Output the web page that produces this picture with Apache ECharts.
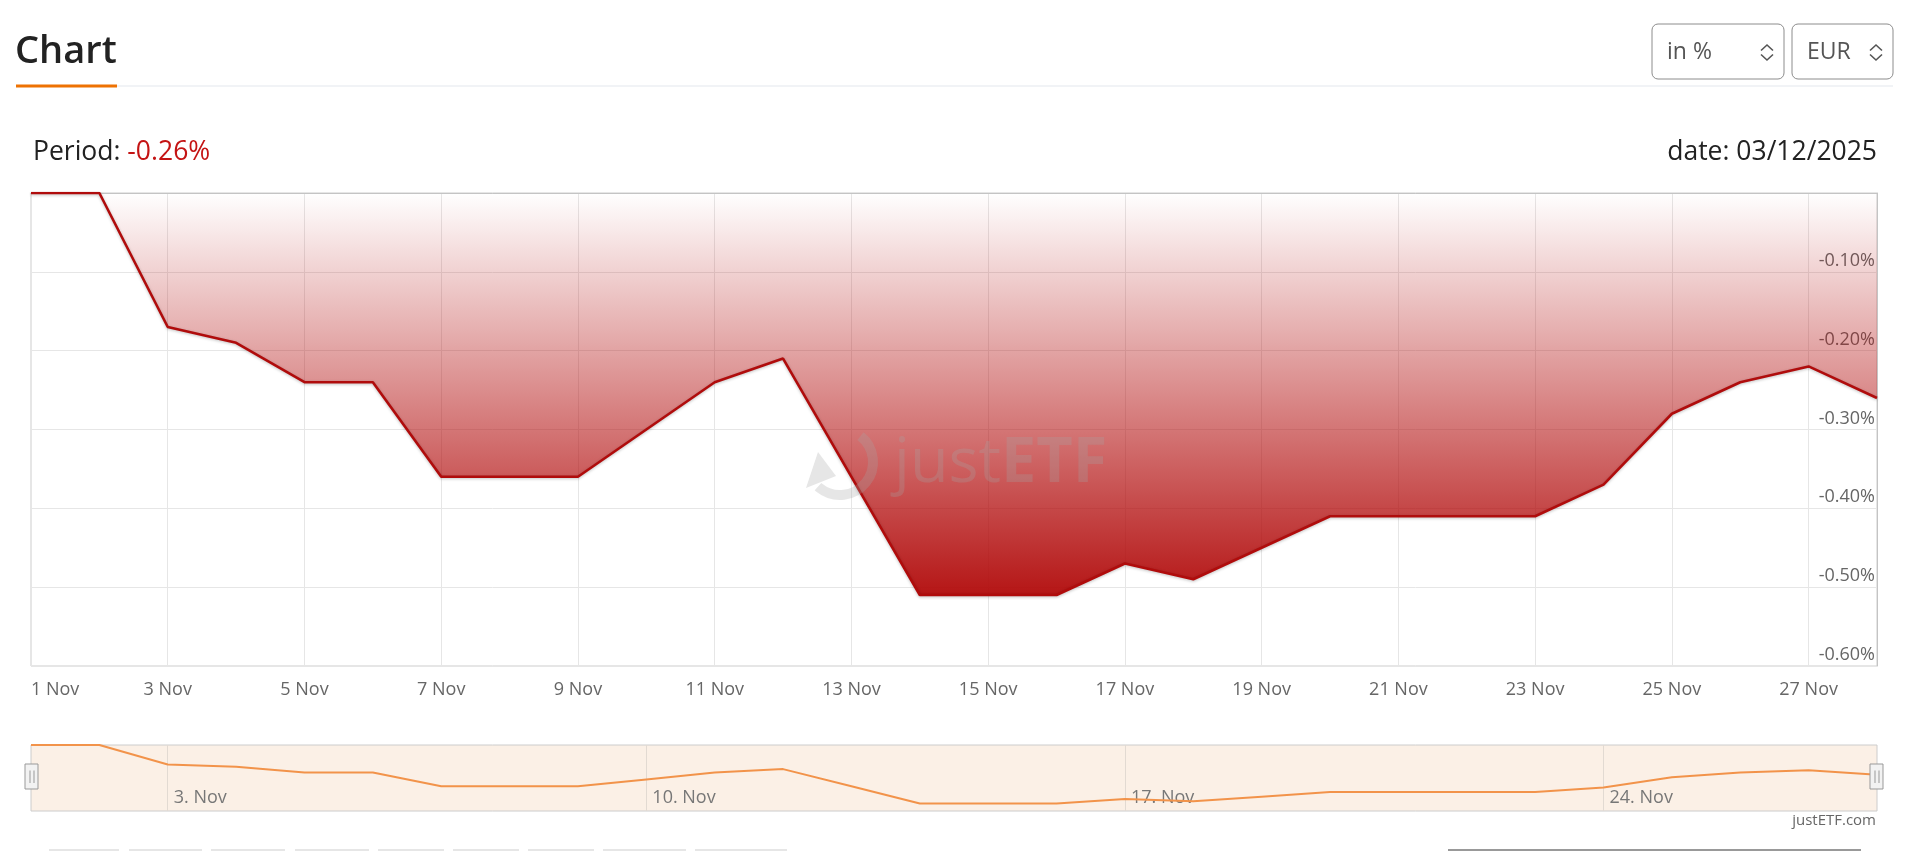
<!DOCTYPE html>
<html>
<head>
<meta charset="utf-8">
<script src="https://cdn.jsdelivr.net/npm/echarts@6/dist/echarts.min.js"></script>
<style>
html,body{margin:0;padding:0;background:#fff;}
#c{width:1920px;height:851px;}
</style>
</head>
<body>
<div id="c"></div>
<script>
// ---- data ----
const categories = ['1 Nov','2 Nov','3 Nov','4 Nov','5 Nov','6 Nov','7 Nov','8 Nov','9 Nov','10 Nov',
  '11 Nov','12 Nov','13 Nov','14 Nov','15 Nov','16 Nov','17 Nov','18 Nov','19 Nov','20 Nov',
  '21 Nov','22 Nov','23 Nov','24 Nov','25 Nov','26 Nov','27 Nov','28 Nov'];
const values = [0, 0, -0.17, -0.19, -0.24, -0.24, -0.36, -0.36, -0.36, -0.30,
  -0.24, -0.21, -0.36, -0.51, -0.51, -0.51, -0.47, -0.49, -0.45, -0.41,
  -0.41, -0.41, -0.41, -0.37, -0.28, -0.24, -0.22, -0.26];
const navigatorTickDays = ['3 Nov','10 Nov','17 Nov','24 Nov'];
const periodLabel = 'Period: ';
const periodValue = '-0.26%';
const dateLabel = 'date: 03/12/2025';
const unitOption = 'in %';
const currencyOption = 'EUR';

const FONT = "'Open Sans', 'DejaVu Sans', sans-serif";
const chart = echarts.init(document.getElementById('c'), null, {renderer: 'canvas'});
const WM = 'rgba(165,165,165,0.28)';

function chevron(cx) {
  return [
    {type: 'polyline', shape: {points: [[cx - 6, 50.5], [cx, 45], [cx + 6, 50.5]]},
      style: {stroke: '#555', lineWidth: 1.6, fill: null}},
    {type: 'polyline', shape: {points: [[cx - 6, 54.5], [cx, 60], [cx + 6, 54.5]]},
      style: {stroke: '#555', lineWidth: 1.6, fill: null}}
  ];
}
function handle(x) {
  return [
    {type: 'rect', shape: {x: x, y: 764, width: 13, height: 25}, style: {fill: '#f2f2f2', stroke: '#999', lineWidth: 1}, z: 20},
    {type: 'line', shape: {x1: x + 5, y1: 770.5, x2: x + 5, y2: 783}, style: {stroke: '#999', lineWidth: 1}, z: 21},
    {type: 'line', shape: {x1: x + 9, y1: 770.5, x2: x + 9, y2: 783}, style: {stroke: '#999', lineWidth: 1}, z: 21}
  ];
}

const bottomBits = [[49,119],[129,202],[211,285],[295,369],[378,444],[453,519],[528,594],[603,686],[695,787]]
  .map(([a, b]) => ({type: 'rect', shape: {x: a, y: 849, width: b - a, height: 2}, style: {fill: '#e6e6e6'}}));

const option = {
  animation: false,
  backgroundColor: '#ffffff',
  grid: [
    {left: 31, right: 43, top: 193, bottom: 185, show: true, borderColor: '#cccccc', borderWidth: 1},
    {left: 31, right: 43, top: 745, bottom: 40, show: true, backgroundColor: '#fbf0e6', borderColor: '#cccccc', borderWidth: 1}
  ],
  xAxis: [
    {
      type: 'category', gridIndex: 0, data: categories, boundaryGap: false,
      axisLine: {show: true, lineStyle: {color: '#c4c4c4'}},
      axisTick: {show: false},
      axisLabel: {interval: 1, alignMinLabel: 'left', color: '#666', fontFamily: FONT, fontSize: 18, margin: 15},
      splitLine: {show: true, interval: 1, lineStyle: {color: '#e6e6e6', width: 1}}
    },
    {
      type: 'category', gridIndex: 1, data: categories, boundaryGap: false,
      axisLine: {show: false}, axisTick: {show: false},
      axisLabel: {
        inside: true,
        interval: (i, v) => navigatorTickDays.includes(v),
        formatter: v => v.replace(' ', '. '),
        align: 'left', verticalAlign: 'bottom', padding: [0, 0, 0, 6], margin: 4,
        color: '#777', fontSize: 18, fontFamily: FONT
      },
      splitLine: {show: true, interval: (i, v) => navigatorTickDays.includes(v), lineStyle: {color: '#e2dad2'}}
    }
  ],
  yAxis: [
    {
      type: 'value', gridIndex: 0, position: 'right', min: -0.6, max: 0, interval: 0.1,
      axisLine: {show: true, lineStyle: {color: '#c4c4c4'}},
      axisTick: {show: false},
      axisLabel: {
        inside: true, margin: 2, verticalAlign: 'bottom', padding: [0, 0, 2, 0],
        color: '#666', fontFamily: FONT, fontSize: 18,
        formatter: v => (Math.abs(v) < 1e-9 ? '' : v.toFixed(2) + '%')
      },
      splitLine: {show: true, lineStyle: {color: '#e6e6e6'}}
    },
    {type: 'value', gridIndex: 1, min: -0.575, max: 0, show: false}
  ],
  series: [
    {
      type: 'line', xAxisIndex: 0, yAxisIndex: 0, data: values, symbol: 'none', z: 3,
      lineStyle: {color: '#b00c0c', width: 2.6, shadowColor: 'rgba(0,0,0,0.25)', shadowBlur: 3, shadowOffsetY: 1},
      areaStyle: {
        opacity: 1,
        color: new echarts.graphic.LinearGradient(0, 0, 0, 1, [
          {offset: 0, color: 'rgba(178,12,12,0.0)'},
          {offset: 1, color: 'rgba(178,12,12,0.96)'}
        ])
      }
    },
    {
      type: 'line', xAxisIndex: 1, yAxisIndex: 1, data: values, symbol: 'none', z: 3,
      lineStyle: {color: '#f2934a', width: 2}
    }
  ],
  graphic: [
    {type: 'text', style: {x: 15, y: 52, text: 'Chart', font: '600 38px ' + FONT, fill: '#222', verticalAlign: 'middle'}},
    {type: 'rect', shape: {x: 117, y: 85.5, width: 1776, height: 1}, style: {fill: '#e3e8ee'}},
    {type: 'rect', shape: {x: 16, y: 84.5, width: 101, height: 3}, style: {fill: '#ee7203'}},
    {type: 'rect', shape: {x: 1652, y: 24, width: 132, height: 55, r: 6}, style: {fill: '#fff', stroke: '#8c8c8c', lineWidth: 1}},
    {type: 'text', style: {x: 1667, y: 52, text: unitOption, font: '23px ' + FONT, fill: '#555', verticalAlign: 'middle'}},
    ...chevron(1767),
    {type: 'rect', shape: {x: 1792, y: 24, width: 101, height: 55, r: 6}, style: {fill: '#fff', stroke: '#8c8c8c', lineWidth: 1}},
    {type: 'text', style: {x: 1807, y: 52, text: currencyOption, font: '23px ' + FONT, fill: '#555', verticalAlign: 'middle'}},
    ...chevron(1876),
    {type: 'text', style: {
      x: 33, y: 152, verticalAlign: 'middle',
      text: '{a|' + periodLabel + '}{b|' + periodValue + '}',
      rich: {a: {fontFamily: FONT, fontSize: 26.5, fill: '#222'}, b: {fontFamily: FONT, fontSize: 26.5, fill: '#c41414'}}
    }},
    {type: 'text', style: {x: 1877, y: 152, text: dateLabel, font: '26.5px ' + FONT, fill: '#222', align: 'right', verticalAlign: 'middle'}},
    // watermark
    {type: 'arc', shape: {cx: 840, cy: 462, r: 33, startAngle: -0.9, endAngle: 2.3, clockwise: true},
      style: {stroke: WM, lineWidth: 10, fill: null}, z: 10},
    {type: 'polygon', shape: {points: [[806, 488], [818, 452], [836, 476]]}, style: {fill: WM}, z: 10},
    {type: 'text', style: {x: 894, y: 464, text: '{j|just}{e|ETF}', verticalAlign: 'middle',
      rich: {j: {fontFamily: FONT, fontSize: 63, fill: WM, fontWeight: 400},
             e: {fontFamily: FONT, fontSize: 63, fill: WM, fontWeight: 700}}}, z: 10},
    ...handle(25),
    ...handle(1870),
    {type: 'text', style: {x: 1876, y: 821, text: 'justETF.com', font: '15px ' + FONT, fill: '#666', align: 'right', verticalAlign: 'middle'}},
    ...bottomBits,
    {type: 'rect', shape: {x: 1448, y: 849, width: 413, height: 2}, style: {fill: '#999'}}
  ]
};
chart.setOption(option);
</script>
</body>
</html>
